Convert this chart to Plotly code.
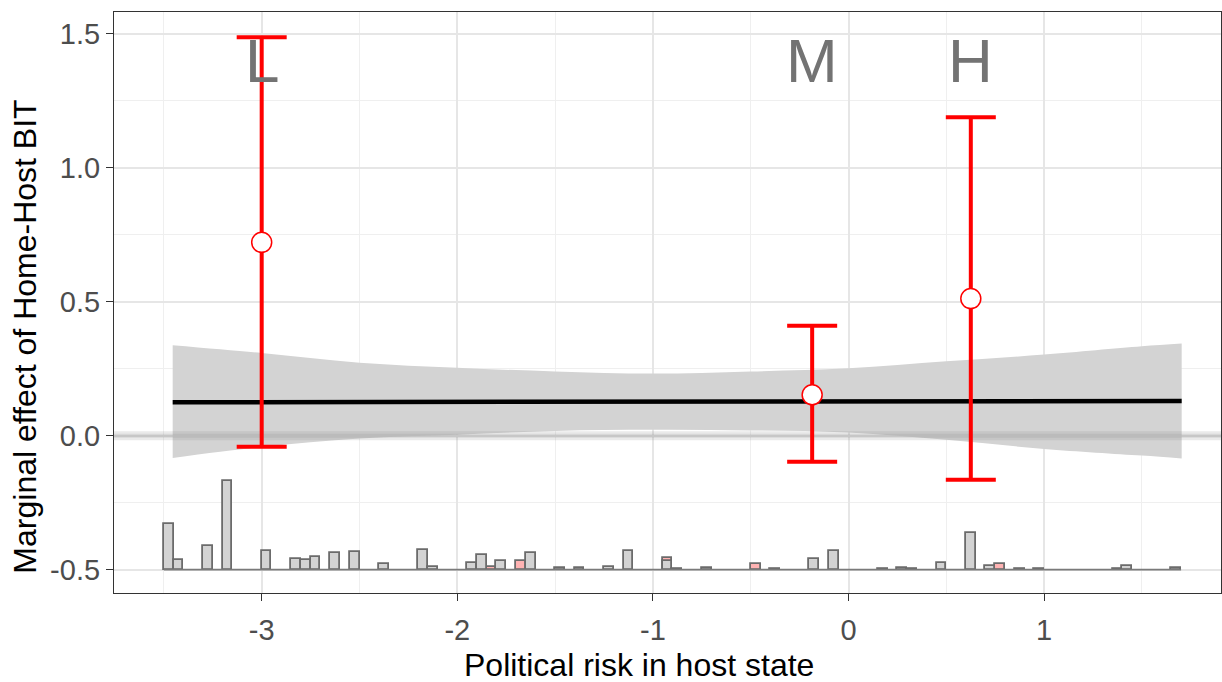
import plotly.graph_objects as go

# ---- data ----
# marginal-effect line (linear) and its confidence ribbon
line_x = [-3.455, 1.703]
line_y = [0.125, 0.130]

rib_x = [-3.455, -3.0, -2.5, -2.0, -1.5, -1.0, -0.5, 0.0, 0.5, 1.0, 1.5, 1.703]
rib_lo = [-0.083, -0.042, -0.010, 0.004, 0.018, 0.022, 0.020, 0.012, -0.015, -0.049, -0.074, -0.085]
rib_hi = [0.338, 0.309, 0.273, 0.254, 0.240, 0.232, 0.240, 0.252, 0.278, 0.303, 0.334, 0.344]

# binned estimates (L, M, H)
bin_labels = ["L", "M", "H"]
bin_x = [-3.0, -0.186, 0.625]
bin_est = [0.722, 0.153, 0.512]
bin_lo = [-0.041, -0.097, -0.164]
bin_hi = [1.488, 0.411, 1.189]
label_y = 1.40

# histogram of the moderator (heights above the -0.5 baseline)
hist_base = -0.5
hist_width = 0.05
hist_range = [-3.5, 1.7]
gray_x = [-3.475, -3.425, -3.275, -3.175, -2.975, -2.825, -2.775, -2.725, -2.625, -2.525,
          -2.375, -2.175, -2.125, -1.925, -1.875, -1.775, -1.625, -1.475, -1.375, -1.225,
          -1.125, -0.925, -0.875, -0.725, -0.375, -0.175, -0.075, 0.175, 0.275, 0.325,
          0.475, 0.625, 0.725, 0.875, 0.975, 1.375, 1.425, 1.675]
gray_h = [0.171, 0.035, 0.089, 0.332, 0.071, 0.041, 0.037, 0.049, 0.061, 0.065,
          0.021, 0.075, 0.010, 0.024, 0.055, 0.032, 0.064, 0.005, 0.007, 0.010,
          0.070, 0.034, 0.002, 0.006, 0.004, 0.040, 0.068, 0.003, 0.008, 0.003,
          0.024, 0.138, 0.012, 0.003, 0.003, 0.003, 0.015, 0.007]
pink_x = [-1.825, -1.675, -0.925, -0.475, 0.775]
pink_h = [0.011, 0.032, 0.042, 0.021, 0.023]

x_ticks = [-3, -2, -1, 0, 1]
y_ticks = [-0.5, 0.0, 0.5, 1.0, 1.5]
y_ticktext = ["-0.5", "0.0", "0.5", "1.0", "1.5"]
x_range = [-3.755, 1.904]
y_range = [-0.587, 1.582]

FONT = "Liberation Sans, Arial, sans-serif"

fig = go.Figure()

# confidence ribbon (lower edge, then upper edge filled to it)
fig.add_trace(go.Scatter(x=rib_x, y=rib_lo, mode="lines",
                         line=dict(width=0, shape="spline", color="rgba(0,0,0,0)"),
                         hoverinfo="skip", showlegend=False))
fig.add_trace(go.Scatter(x=rib_x, y=rib_hi, mode="lines", fill="tonexty",
                         fillcolor="#d3d3d3",
                         line=dict(width=0, shape="spline", color="rgba(0,0,0,0)"),
                         hoverinfo="skip", showlegend=False))

# zero reference band
fig.add_trace(go.Scatter(x=x_range, y=[0, 0], mode="lines",
                         line=dict(color="rgba(140,140,140,0.18)", width=9),
                         hoverinfo="skip", showlegend=False))
fig.add_trace(go.Scatter(x=x_range, y=[0, 0], mode="lines",
                         line=dict(color="rgba(140,140,140,0.18)", width=4),
                         hoverinfo="skip", showlegend=False))

# marginal-effect line
fig.add_trace(go.Scatter(x=line_x, y=line_y, mode="lines",
                         line=dict(color="black", width=4.5),
                         hoverinfo="skip", showlegend=False))

# histogram
fig.add_trace(go.Bar(x=pink_x, y=pink_h, base=hist_base, width=hist_width,
                     marker=dict(color="#ffb3b3", line=dict(color="#6b6b6b", width=1.8)),
                     showlegend=False))
fig.add_trace(go.Bar(x=gray_x, y=gray_h, base=hist_base, width=hist_width,
                     marker=dict(color="#d3d3d3", line=dict(color="#6b6b6b", width=1.8)),
                     showlegend=False))
fig.add_trace(go.Scatter(x=hist_range, y=[hist_base, hist_base], mode="lines",
                         line=dict(color="#7a7a7a", width=1.8),
                         hoverinfo="skip", showlegend=False))

# binned estimates with error bars
fig.add_trace(go.Scatter(
    x=bin_x, y=bin_est, mode="markers",
    marker=dict(symbol="circle", size=20, color="white", line=dict(color="red", width=1.5)),
    error_y=dict(type="data", symmetric=False,
                 array=[h - e for h, e in zip(bin_hi, bin_est)],
                 arrayminus=[e - l for e, l in zip(bin_est, bin_lo)],
                 color="red", thickness=4, width=25),
    showlegend=False))

for lab, xv in zip(bin_labels, bin_x):
    fig.add_annotation(x=xv, y=label_y, text=lab, showarrow=False,
                       font=dict(family=FONT, size=62, color="#737373"),
                       xanchor="center", yanchor="middle")

# axis titles
fig.add_annotation(xref="paper", yref="paper", x=0.4743, y=-0.124,
                   text="Political risk in host state", showarrow=False,
                   font=dict(family=FONT, size=32, color="black"),
                   xanchor="center", yanchor="middle")
fig.add_annotation(xref="paper", yref="paper", x=-0.08, y=0.442,
                   text="Marginal effect of Home-Host BIT", showarrow=False, textangle=-90,
                   font=dict(family=FONT, size=32, color="black"),
                   xanchor="center", yanchor="middle")

axis_common = dict(showline=True, mirror=True, linecolor="#333333", linewidth=1.2,
                   ticks="outside", ticklen=7, tickwidth=1.2, tickcolor="#333333",
                   showgrid=True, gridcolor="#e6e6e6", gridwidth=1.6, zeroline=False,
                   tickfont=dict(family=FONT, size=29, color="#4d4d4d"))

fig.update_layout(
    width=1222, height=682,
    margin=dict(l=114, r=1, t=12, b=89),
    plot_bgcolor="white", paper_bgcolor="white",
    barmode="overlay", bargap=0,
    font=dict(family=FONT),
    xaxis=dict(range=x_range, tickvals=x_ticks, ticktext=[str(v) for v in x_ticks],
               ticklabelstandoff=4,
               minor=dict(tickvals=[-3.5, -2.5, -1.5, -0.5, 0.5, 1.5], showgrid=True,
                          gridcolor="#efefef", gridwidth=1, ticks=""),
               **axis_common),
    yaxis=dict(range=y_range, tickvals=y_ticks, ticktext=y_ticktext,
               minor=dict(tickvals=[-0.25, 0.25, 0.75, 1.25], showgrid=True,
                          gridcolor="#efefef", gridwidth=1, ticks=""),
               **axis_common),
)

fig.write_html("out.html")
